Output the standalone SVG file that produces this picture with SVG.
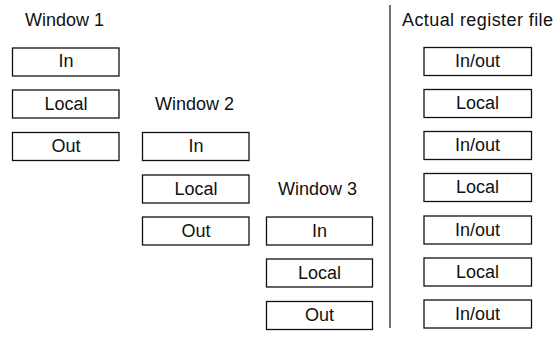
<svg xmlns="http://www.w3.org/2000/svg" width="555" height="348" viewBox="0 0 555 348">
<style>
rect.b{fill:#fff;stroke:#111;stroke-width:1.3}
text{font-family:"Liberation Sans",Arial,sans-serif;font-size:18px;fill:#111}
text.c{text-anchor:middle}
line{stroke:#222;stroke-width:1.3}
</style>
<rect width="555" height="348" fill="#fff"/>
<g id="w1">
<text x="25" y="26">Window 1</text>
<g id="w1-in"><rect class="b" x="12.5" y="48" width="106.5" height="28"/><text class="c" x="66" y="67">In</text></g>
<g id="w1-local"><rect class="b" x="12.5" y="90" width="106.5" height="28"/><text class="c" x="66" y="110">Local</text></g>
<g id="w1-out"><rect class="b" x="12.5" y="132.5" width="106.5" height="28"/><text class="c" x="66" y="152">Out</text></g>
</g>
<g id="w2">
<text x="155" y="110">Window 2</text>
<g id="w2-in"><rect class="b" x="142.5" y="132.5" width="106.5" height="28"/><text class="c" x="196" y="152">In</text></g>
<g id="w2-local"><rect class="b" x="142.5" y="175" width="106.5" height="28"/><text class="c" x="196" y="194.5">Local</text></g>
<g id="w2-out"><rect class="b" x="142.5" y="217" width="106.5" height="28"/><text class="c" x="196" y="236.5">Out</text></g>
</g>
<g id="w3">
<text x="278" y="195">Window 3</text>
<g id="w3-in"><rect class="b" x="266.5" y="217" width="106" height="28"/><text class="c" x="319.5" y="236.5">In</text></g>
<g id="w3-local"><rect class="b" x="266.5" y="259" width="106" height="28"/><text class="c" x="319.5" y="278.5">Local</text></g>
<g id="w3-out"><rect class="b" x="266.5" y="301.5" width="106" height="28"/><text class="c" x="319.5" y="321">Out</text></g>
</g>
<g id="connectors">
<line x1="390" y1="5" x2="390" y2="328"/>
</g>
<g id="rf">
<text x="402" y="26" textLength="151" lengthAdjust="spacing">Actual register file</text>
<g id="rf1"><rect class="b" x="424" y="47.5" width="107.5" height="28"/><text class="c" x="477.5" y="67">In/out</text></g>
<g id="rf2"><rect class="b" x="424" y="89.5" width="107.5" height="28"/><text class="c" x="477.5" y="109">Local</text></g>
<g id="rf3"><rect class="b" x="424" y="131.5" width="107.5" height="28"/><text class="c" x="477.5" y="151">In/out</text></g>
<g id="rf4"><rect class="b" x="424" y="173.5" width="107.5" height="28"/><text class="c" x="477.5" y="193">Local</text></g>
<g id="rf5"><rect class="b" x="424" y="216" width="107.5" height="28"/><text class="c" x="477.5" y="235.5">In/out</text></g>
<g id="rf6"><rect class="b" x="424" y="258" width="107.5" height="28"/><text class="c" x="477.5" y="277.5">Local</text></g>
<g id="rf7"><rect class="b" x="424" y="300" width="107.5" height="28"/><text class="c" x="477.5" y="319.5">In/out</text></g>
</g>
</svg>
